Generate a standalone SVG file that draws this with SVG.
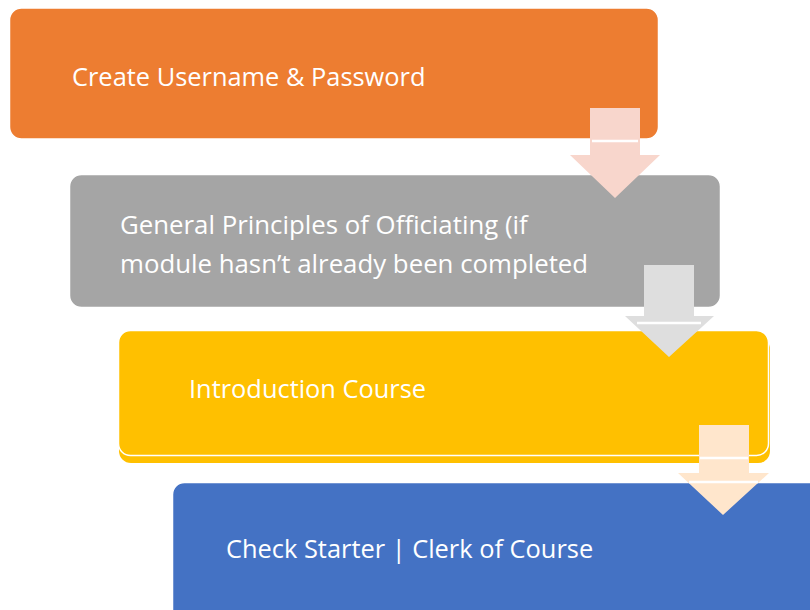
<svg xmlns="http://www.w3.org/2000/svg" width="810" height="610" viewBox="0 0 810 610">
<style>
.lbl{font-family:"Open Sans","Noto Sans","Liberation Sans",sans-serif;fill:#FFFFFF;font-size:25.4px}
.box{stroke:#FFFFFF;stroke-width:1.5}
.wl{stroke:#FFFFFF;stroke-width:2.5}
</style>
<rect width="810" height="610" fill="#FFFFFF"/>
<g id="node1">
<rect class="box" x="9.5" y="8" width="649" height="131" rx="12" fill="#ED7D31"/>
<text class="lbl" x="72" y="86">Create Username &amp; Password</text>
</g>
<g id="node2">
<rect class="box" x="69.5" y="174.5" width="651" height="133" rx="12" fill="#A5A5A5"/>
<text class="lbl" x="120" y="234" style="font-size:25.8px">General Principles of Officiating (if</text>
<text class="lbl" x="120" y="273" style="font-size:25.8px">module hasn’t already been completed</text>
</g>
<g id="node3">
<rect x="119" y="337" width="651" height="126" rx="12" fill="#FFC000"/>
<rect class="box" x="118.5" y="330.5" width="650" height="125" rx="12" fill="#FFC000"/>
<text class="lbl" x="189" y="398">Introduction Course</text>
</g>
<g id="node4">
<rect class="box" x="172.5" y="482.5" width="660" height="140" rx="12" fill="#4472C4"/>
<text class="lbl" x="226" y="558">Check Starter | Clerk of Course</text>
</g>
<g id="connectors">
<polygon points="590,108 640,108 640,155 660,155 615,198 570,155 590,155" fill="#F8D6CC"/>
<line class="wl" x1="592" y1="141" x2="638" y2="141"/>
<polygon points="644,265 694,265 694,316 714,316 669,357 625,316 644,316" fill="#DEDEDE"/>
<line class="wl" x1="637" y1="323" x2="701" y2="323"/>
<polygon points="699,425 749,425 749,473 769,473 723,515 678,473 699,473" fill="#FFE6CC"/>
<line class="wl" x1="700" y1="458" x2="748" y2="458"/>
<line class="wl" x1="689" y1="482" x2="758" y2="482"/>
</g>
</svg>
